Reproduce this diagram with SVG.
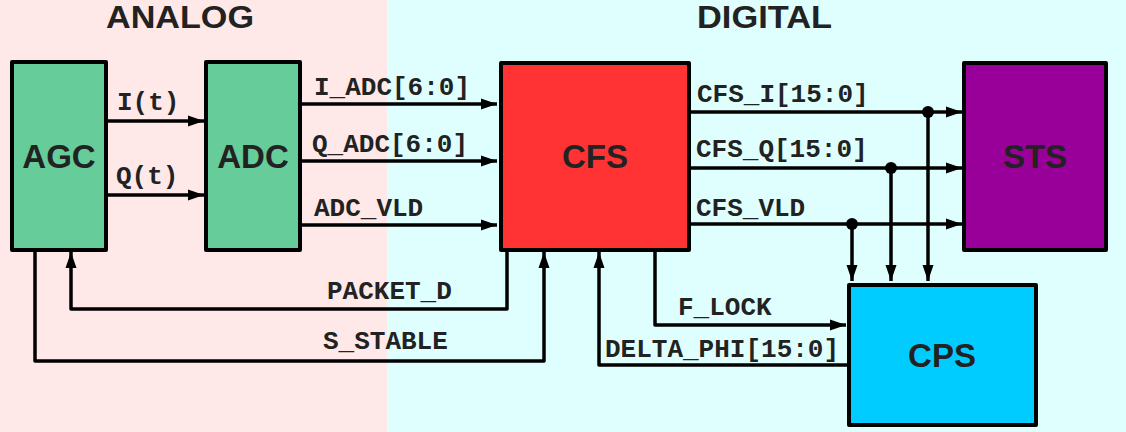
<svg xmlns="http://www.w3.org/2000/svg" width="1126" height="432" viewBox="0 0 1126 432">
<style>
.box{stroke:#000;stroke-width:4;stroke-linejoin:round}
.big{font-family:"Liberation Sans",Arial,sans-serif;font-weight:bold;font-size:33px;fill:#222;text-anchor:middle}
.title{font-family:"Liberation Sans",Arial,sans-serif;font-weight:bold;font-size:32px;fill:#222;text-anchor:middle}
.lbl{font-family:"Liberation Mono","Courier New",monospace;font-weight:bold;font-size:26px;fill:#222}
.w{fill:none;stroke:#000;stroke-width:3.5;stroke-linejoin:round}
.wa{fill:none;stroke:#000;stroke-width:3.5;stroke-linejoin:round;marker-end:url(#ah)}
</style>
<defs>
<marker id="ah" markerUnits="userSpaceOnUse" markerWidth="16" markerHeight="12" refX="16" refY="6" orient="auto">
<path d="M0,0.5 L16,6 L0,11.5 z" fill="#000"/>
</marker>
</defs>
<rect x="0" y="0" width="387" height="432" fill="#ffe9e8"/>
<rect x="387" y="0" width="739" height="432" fill="#dfffff"/>
<text class="title" x="180" y="27.5" textLength="148" lengthAdjust="spacingAndGlyphs">ANALOG</text>
<text class="title" x="764.5" y="27.5" textLength="135" lengthAdjust="spacingAndGlyphs">DIGITAL</text>

<g id="connectors">
<path class="wa" d="M106,121 L204,121"/>
<path class="wa" d="M106,195 L204,195"/>
<path class="wa" d="M300,104 L497,104"/>
<path class="wa" d="M300,161 L497,161"/>
<path class="wa" d="M300,225 L497,225"/>
<path class="wa" d="M689,112 L962,112"/>
<path class="wa" d="M689,168 L962,168"/>
<path class="wa" d="M689,224 L962,224"/>
<circle cx="928" cy="112" r="6" fill="#000"/>
<circle cx="891" cy="168" r="6" fill="#000"/>
<circle cx="852" cy="224" r="6" fill="#000"/>
<path class="wa" d="M928,112 L928,281"/>
<path class="wa" d="M891,168 L891,281"/>
<path class="wa" d="M852,224 L852,281"/>
<path class="wa" d="M507,250 L507,309 L71,309 L71,252"/>
<path class="wa" d="M35,250 L35,361 L544,361 L544,252"/>
<path class="wa" d="M848,365 L599,365 L599,252"/>
<path class="wa" d="M655,250 L655,325 L846,325"/>
<text class="lbl" x="117" y="110">I(t)</text>
<text class="lbl" x="116" y="184">Q(t)</text>
<text class="lbl" x="314" y="95">I_ADC[6:0]</text>
<text class="lbl" x="312" y="152">Q_ADC[6:0]</text>
<text class="lbl" x="314" y="216">ADC_VLD</text>
<text class="lbl" x="697" y="102">CFS_I[15:0]</text>
<text class="lbl" x="696" y="157">CFS_Q[15:0]</text>
<text class="lbl" x="696" y="216">CFS_VLD</text>
<text class="lbl" x="327" y="299">PACKET_D</text>
<text class="lbl" x="323" y="349">S_STABLE</text>
<text class="lbl" x="678" y="315">F_LOCK</text>
<text class="lbl" x="605" y="357">DELTA_PHI[15:0]</text>
</g>

<g id="AGC"><rect class="box" x="12" y="62" width="94" height="188" fill="#66cc99"/><text class="big" x="59" y="168">AGC</text></g>
<g id="ADC"><rect class="box" x="206" y="62" width="94" height="188" fill="#66cc99"/><text class="big" x="253" y="168">ADC</text></g>
<g id="CFS"><rect class="box" x="501" y="63" width="188" height="187" fill="#ff3333"/><text class="big" x="595" y="168">CFS</text></g>
<g id="STS"><rect class="box" x="964" y="63" width="142" height="187" fill="#990099"/><text class="big" x="1035" y="168">STS</text></g>
<g id="CPS"><rect class="box" x="849" y="285" width="187" height="140" fill="#00ccff"/><text class="big" x="942" y="367">CPS</text></g>
</svg>
